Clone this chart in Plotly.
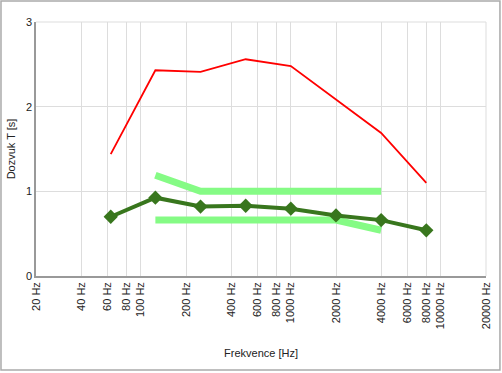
import plotly.graph_objects as go

freqs = [63, 125, 250, 500, 1000, 2000, 4000, 8000]
t_red = [1.44, 2.43, 2.41, 2.56, 2.48, 2.09, 1.69, 1.10]
t_green = [0.70, 0.925, 0.82, 0.83, 0.795, 0.715, 0.66, 0.54]

tol_freqs = [125, 250, 500, 1000, 2000, 4000]
tol_upper = [1.19, 1.0, 1.0, 1.0, 1.0, 1.0]
tol_lower = [0.66, 0.66, 0.66, 0.66, 0.66, 0.54]

tick_vals = [20, 40, 60, 80, 100, 200, 400, 600, 800, 1000, 2000, 4000, 6000, 8000, 10000, 20000]
tick_text = [f"{v} Hz" for v in tick_vals]
y_ticks = [0, 1, 2, 3]

fig = go.Figure()
fig.add_trace(go.Scatter(x=tol_freqs, y=tol_upper, mode="lines",
                         line=dict(color="#85fb85", width=7), hoverinfo="skip"))
fig.add_trace(go.Scatter(x=tol_freqs, y=tol_lower, mode="lines",
                         line=dict(color="#85fb85", width=7), hoverinfo="skip"))
fig.add_trace(go.Scatter(x=freqs, y=t_red, mode="lines",
                         line=dict(color="#ff0000", width=1.8)))
fig.add_trace(go.Scatter(x=freqs, y=t_green, mode="lines+markers",
                         line=dict(color="#38761d", width=4),
                         marker=dict(symbol="diamond", size=11, color="#38761d")))

font = "Liberation Sans, Arial, sans-serif"
fig.update_layout(
    width=502, height=373,
    margin=dict(l=36, r=16, t=22, b=97),
    paper_bgcolor="white", plot_bgcolor="white",
    showlegend=False,
    font=dict(family=font, size=11, color="#222222"),
    xaxis=dict(type="log", range=[1.30103, 4.30103], automargin=False,
               tickvals=tick_vals, ticktext=tick_text, tickangle=-90,
               showgrid=True, gridcolor="#dddddd", gridwidth=1,
               showline=True, linecolor="#999999", linewidth=1.5,
               ticks="", zeroline=False,
               title=dict(text="Frekvence [Hz]", standoff=21,
                          font=dict(size=11, color="#222222"))),
    yaxis=dict(range=[0, 3], tickvals=y_ticks, automargin=False,
               showgrid=True, gridcolor="#dddddd", gridwidth=1,
               showline=True, linecolor="#999999", linewidth=1.5,
               ticks="", zeroline=False,
               title=dict(text="Dozvuk T [s]", standoff=8,
                          font=dict(size=11, color="#222222"))),
    shapes=[dict(type="rect", xref="paper", yref="paper",
                 x0=-0.0778, x1=1.031, y0=-0.370, y1=1.0827,
                 line=dict(color="#aaaaaa", width=1.5), layer="below")],
)
fig.add_shape(type="line", xref="paper", yref="paper", x0=1, x1=1, y0=0, y1=1,
              line=dict(color="#dddddd", width=1), layer="below")
fig.add_shape(type="line", xref="paper", yref="paper", x0=0, x1=1, y0=1, y1=1,
              line=dict(color="#dddddd", width=1), layer="below")

fig.write_html("out.html", config={"displayModeBar": False},
               post_script="document.body.style.margin='0';document.body.style.overflow='hidden';")
